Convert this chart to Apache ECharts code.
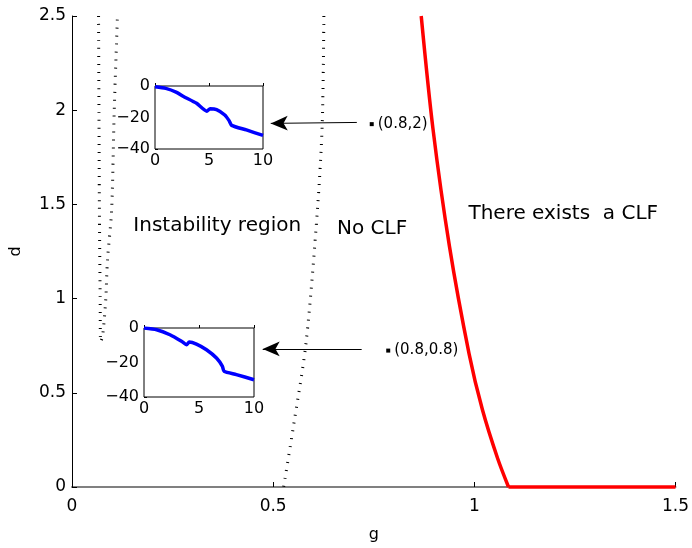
<!DOCTYPE html>
<html>
<head>
<meta charset="utf-8">
<script src="https://cdn.jsdelivr.net/npm/echarts@6/dist/echarts.min.js"></script>
<style>html,body{margin:0;padding:0;background:#fff;}#c{width:692px;height:548px;}</style>
</head>
<body>
<div id="c"></div>
<script>
// Red boundary (There exists a CLF): curved part, then flat part on d = 0
const redG = [0.868, 0.897, 0.938, 0.987, 1.020, 1.058, 1.085];
const redD = [2.5, 1.905, 1.28, 0.707, 0.411, 0.151, 0];
const redFlatG = [1.085, 1.5];
const redFlatD = [0, 0];
// Left dotted boundary (instability region)
const leftG = [0.066, 0.067, 0.068, 0.070, 0.071, 0.076, 0.084, 0.088, 0.0985, 0.105, 0.113];
const leftD = [2.5, 2.0, 1.5, 1.0, 0.77, 0.8, 1.0, 1.2, 1.47, 2.0, 2.5];
// Middle dotted boundary (No CLF)
const midG = [0.626, 0.622, 0.61, 0.582, 0.551, 0.526];
const midD = [2.5, 1.93, 1.47, 0.77, 0.33, 0];
// Marked points and labels
const ptG = [0.745, 0.786];
const ptD = [1.926, 0.724];
const ptLabels = ['(0.8,2)', '(0.8,0.8)'];
// Arrows: [tailG, tailD, tipG, tipD]
const arrow1 = [0.708, 1.935, 0.494, 1.93];
const arrow2 = [0.720, 0.733, 0.474, 0.733];
// Region texts
const regionTexts = ['Instability region', 'No CLF', 'There exists  a CLF'];
const regionG = [0.361, 0.746, 1.221];
const regionD = [1.384, 1.373, 1.4525];
// Inset 1 (upper)
const in1X = [0, 1, 2, 2.6, 3.85, 4.8, 5.1, 5.7, 6.46, 6.86, 7.1, 8.46, 10];
const in1Y = [-0.5, -1.5, -4, -6.5, -11, -16, -14.5, -15, -18.4, -22, -25, -27.9, -31.4];
// Inset 2 (lower)
const in2X = [0, 1.15, 2.36, 3.41, 3.87, 4.11, 4.77, 5.68, 6.59, 7.13, 7.28, 8.4, 10];
const in2Y = [0, -1, -3.9, -7.7, -9.7, -8.1, -9.3, -12.6, -17.4, -22.2, -25.1, -27, -30];
// Tick values
const xTicksMain = [0, 0.5, 1, 1.5];
const yTicksMain = [0, 0.5, 1, 1.5, 2, 2.5];

const FONT = 'DejaVu Sans';
const zip = (a, b) => a.map((v, i) => [v, b[i]]);
const minusFmt = v => (v < 0 ? '\u2212' + (-v) : String(v));

const chart = echarts.init(document.getElementById('c'), null, {renderer: 'canvas'});

function insetX(gi) {
  return {
    type: 'value', gridIndex: gi, min: 0, max: 10, interval: 5,
    axisLine: {show: false},
    axisTick: {show: true, inside: true, length: 3, lineStyle: {color: '#000'}},
    axisLabel: {color: '#000', fontFamily: FONT, fontSize: 16, margin: 4},
    splitLine: {show: false}
  };
}
function insetY(gi) {
  return {
    type: 'value', gridIndex: gi, min: -40, max: 0, interval: 20,
    axisLine: {show: false},
    axisTick: {show: true, inside: true, length: 3, lineStyle: {color: '#000'}},
    axisLabel: {color: '#000', fontFamily: FONT, fontSize: 16, margin: 5, formatter: minusFmt},
    splitLine: {show: false}
  };
}

const option = {
  animation: false,
  backgroundColor: '#fff',
  grid: [
    {left: 69, top: 16, width: 609, height: 480},
    {left: 155, top: 86, width: 108, height: 63, show: true, borderColor: '#000', borderWidth: 1, backgroundColor: '#fff', z: 5},
    {left: 144, top: 328, width: 110, height: 69, show: true, borderColor: '#000', borderWidth: 1, backgroundColor: '#fff', z: 5}
  ],
  xAxis: [
    {
      type: 'value', gridIndex: 0, min: 0, max: 1.5, interval: 0.5,
      name: 'g', nameLocation: 'middle', nameGap: 40, nameMoveOverlap: false,
      nameTextStyle: {color: '#000', fontFamily: FONT, fontSize: 16},
      axisLine: {show: true, lineStyle: {color: '#808080', width: 2}},
      axisTick: {show: true, inside: true, length: 5, lineStyle: {color: '#000'}},
      axisLabel: {color: '#000', fontFamily: FONT, fontSize: 17, margin: 11,
        formatter: v => (xTicksMain.indexOf(v) >= 0 ? String(v) : '')},
      splitLine: {show: false}
    },
    insetX(1), insetX(2)
  ],
  yAxis: [
    {
      type: 'value', gridIndex: 0, min: 0, max: 2.5, interval: 0.5,
      name: 'd', nameLocation: 'middle', nameGap: 48, nameMoveOverlap: false,
      nameTextStyle: {color: '#000', fontFamily: FONT, fontSize: 16},
      axisLine: {show: true, lineStyle: {color: '#000', width: 1}},
      axisTick: {show: true, inside: true, length: 5, lineStyle: {color: '#000'}},
      axisLabel: {color: '#000', fontFamily: FONT, fontSize: 17, margin: 6,
        formatter: v => (yTicksMain.indexOf(v) >= 0 ? String(v) : '')},
      splitLine: {show: false}
    },
    insetY(1), insetY(2)
  ],
  series: [
    {
      type: 'line', xAxisIndex: 0, yAxisIndex: 0, data: zip(leftG, leftD),
      showSymbol: false, smooth: 0.3, z: 2,
      lineStyle: {color: '#000', width: 3, type: [1, 7], cap: 'butt'}
    },
    {
      type: 'line', xAxisIndex: 0, yAxisIndex: 0, data: zip(midG, midD),
      showSymbol: false, smooth: 0.3, z: 2,
      lineStyle: {color: '#000', width: 3, type: [1, 7], cap: 'butt'}
    },
    {
      type: 'line', xAxisIndex: 0, yAxisIndex: 0, data: zip(redG, redD),
      showSymbol: false, smooth: 0.3, z: 4, clip: false,
      lineStyle: {color: '#ff0000', width: 3.5}
    },
    {
      type: 'line', xAxisIndex: 0, yAxisIndex: 0, data: zip(redFlatG, redFlatD),
      showSymbol: false, z: 4, clip: false,
      lineStyle: {color: '#ff0000', width: 3.5}
    },
    {
      type: 'scatter', xAxisIndex: 0, yAxisIndex: 0,
      data: ptG.map((g, i) => ({value: [g, ptD[i]], label: {formatter: ptLabels[i]}})),
      symbol: 'rect', symbolSize: 4, itemStyle: {color: '#000', opacity: 1}, z: 6,
      label: {show: true, position: 'right', distance: 4, color: '#000', fontFamily: FONT, fontSize: 15},
      markLine: {
        silent: true, animation: false,
        symbol: ['none', 'arrow'], symbolSize: [11, 17],
        lineStyle: {color: '#000', width: 1, type: 'solid', opacity: 1},
        label: {show: false},
        data: [
          [{coord: [arrow1[0], arrow1[1]]}, {coord: [arrow1[2], arrow1[3]]}],
          [{coord: [arrow2[0], arrow2[1]]}, {coord: [arrow2[2], arrow2[3]]}]
        ]
      }
    },
    {
      type: 'scatter', xAxisIndex: 0, yAxisIndex: 0, symbolSize: 1, z: 6,
      itemStyle: {color: 'rgba(255,255,255,0)', opacity: 1},
      data: regionG.map((g, i) => ({value: [g, regionD[i]], label: {formatter: regionTexts[i]}})),
      label: {show: true, position: 'inside', color: '#000', fontFamily: FONT, fontSize: 20,
        textBorderWidth: 0}
    },
    {
      type: 'line', xAxisIndex: 1, yAxisIndex: 1, data: zip(in1X, in1Y),
      showSymbol: false, smooth: 0.2, z: 7,
      lineStyle: {color: '#0000ff', width: 3.5}
    },
    {
      type: 'line', xAxisIndex: 2, yAxisIndex: 2, data: zip(in2X, in2Y),
      showSymbol: false, smooth: 0.2, z: 7,
      lineStyle: {color: '#0000ff', width: 3.5}
    }
  ]
};
chart.setOption(option);
</script>
</body>
</html>
